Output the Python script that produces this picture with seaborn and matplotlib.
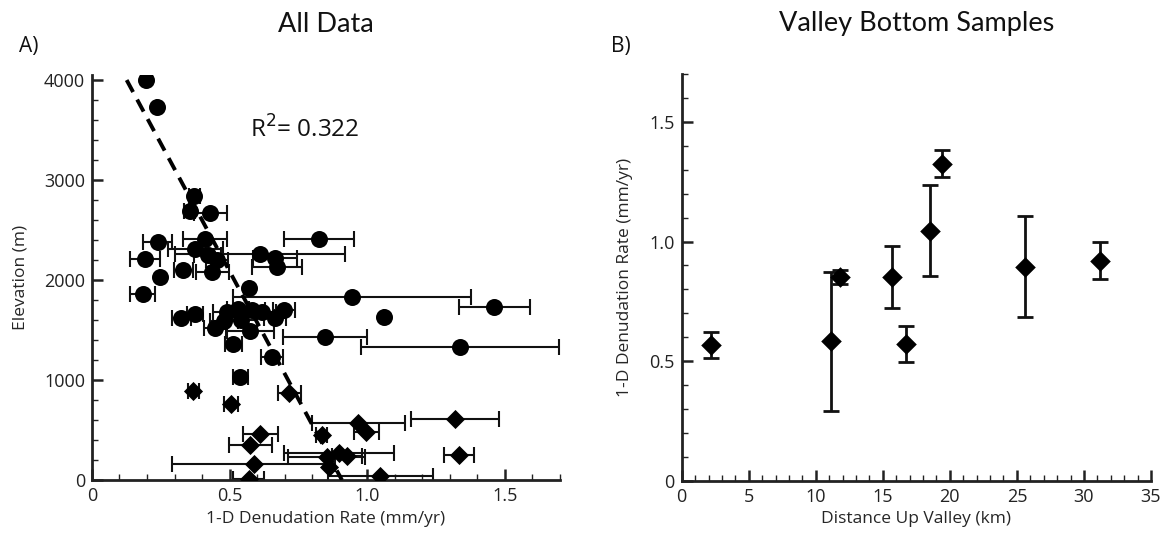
import numpy as np
import pandas as pd
import matplotlib
matplotlib.use("Agg")
import matplotlib.pyplot as plt
import seaborn as sns
from matplotlib.ticker import MultipleLocator

# ---- Panel A: all samples (rate in mm/yr, elevation in m, 1-sigma rate error) ----
upland_rate = [0.195, 0.238, 0.372, 0.356, 0.429, 0.825, 0.239, 0.411, 0.375, 0.420,
               0.453, 0.193, 0.610, 0.665, 0.672, 0.437, 0.332, 0.247, 0.184, 0.572,
               0.944, 1.462, 1.059, 1.338, 0.847, 0.324, 0.375, 0.490, 0.532, 0.580,
               0.617, 0.696, 0.665, 0.447, 0.575, 0.514, 0.653, 0.538, 0.540, 0.480]
upland_elev = [4000, 3730, 2840, 2690, 2675, 2410, 2385, 2415, 2310, 2250,
               2200, 2210, 2260, 2220, 2135, 2085, 2100, 2030, 1865, 1925,
               1835, 1735, 1635, 1335, 1430, 1625, 1665, 1685, 1715, 1700,
               1685, 1705, 1620, 1525, 1490, 1360, 1235, 1030, 1600, 1590]
upland_err = [0.0, 0.0, 0.02, 0.02, 0.06, 0.127, 0.053, 0.08, 0.10, 0.05,
              0.04, 0.055, 0.31, 0.08, 0.09, 0.06, 0.035, 0.0, 0.045, 0.0,
              0.433, 0.13, 0.0, 0.36, 0.153, 0.035, 0.03, 0.05, 0.04, 0.05,
              0.05, 0.04, 0.04, 0.04, 0.085, 0.03, 0.04, 0.027, 0.06, 0.05]

valley_rate_a = [0.368, 0.716, 0.505, 0.611, 0.575, 0.587, 0.569, 1.320, 0.968,
                 0.996, 0.835, 0.896, 0.926, 0.853, 0.860, 1.332, 1.047]
valley_elev_a = [895, 870, 757, 457, 350, 163, 12, 607, 567,
                 483, 450, 267, 240, 227, 135, 250, 40]
valley_err_a = [0.02, 0.042, 0.025, 0.064, 0.079, 0.295, 0.057, 0.16, 0.17,
                0.045, 0.02, 0.20, 0.055, 0.14, 0.0, 0.055, 0.19]

# Linear fit of elevation on rate: elev = fit_intercept + fit_slope * rate
fit_slope = -5115.0
fit_intercept = 4644.0
fit_range = [0.126, 0.908]
r_squared = 0.322

# ---- Panel B: valley bottom samples ----
valley_dist = [2.2, 11.1, 11.8, 15.7, 16.7, 18.5, 19.4, 25.6, 31.2]
valley_rate = [0.568, 0.582, 0.851, 0.851, 0.572, 1.046, 1.325, 0.895, 0.920]
valley_err = [0.055, 0.29, 0.03, 0.13, 0.075, 0.19, 0.057, 0.21, 0.077]

up_df = pd.DataFrame({"rate": upland_rate, "elev": upland_elev, "err": upland_err})
va_df = pd.DataFrame({"rate": valley_rate_a, "elev": valley_elev_a, "err": valley_err_a})
vb_df = pd.DataFrame({"dist": valley_dist, "rate": valley_rate, "err": valley_err})

sns.set_theme(style="ticks")
plt.rcParams["font.family"] = ["Open Sans", "DejaVu Sans"]
plt.rcParams["axes.edgecolor"] = "#222222"
plt.rcParams["xtick.color"] = "#222222"
plt.rcParams["ytick.color"] = "#222222"
plt.rcParams["text.color"] = "#111111"

fig = plt.figure(figsize=(11.73, 5.35), dpi=100)
ax1 = fig.add_axes([0.0784, 0.1028, 0.399, 0.757])
ax2 = fig.add_axes([0.5812, 0.1015, 0.400, 0.760])

err_kw = dict(fmt="none", ecolor="#111111", elinewidth=1.5, capsize=5.5, capthick=1.5, zorder=2)

# Panel A
ax1.errorbar(up_df["rate"], up_df["elev"], xerr=up_df["err"], **err_kw)
ax1.errorbar(va_df["rate"], va_df["elev"], xerr=va_df["err"], **err_kw)
sns.scatterplot(data=up_df, x="rate", y="elev", ax=ax1, marker="o", s=150,
                color="black", edgecolor="black", linewidth=0, zorder=3)
sns.scatterplot(data=va_df, x="rate", y="elev", ax=ax1, marker="D", s=95,
                color="black", edgecolor="black", linewidth=0, zorder=3)
fx = np.array(fit_range)
ax1.plot(fx, fit_intercept + fit_slope * fx, color="black", lw=2.8,
         linestyle=(0, (3.5, 2.2)), zorder=4)
ax1.text(0.575, 3500, f"R$^2$= {r_squared:.3f}", fontsize=17.5, ha="left", va="center")

ax1.set_xlim(0, 1.7)
ax1.set_ylim(0, 4050)
ax1.set_xticks([0, 0.5, 1.0, 1.5])
ax1.set_xticklabels(["0", "0.5", "1.0", "1.5"])
ax1.set_yticks([0, 1000, 2000, 3000, 4000])
ax1.set_yticklabels(["0", "1000", "2000", "3000", "4000"])
ax1.xaxis.set_minor_locator(MultipleLocator(0.1))
ax1.yaxis.set_minor_locator(MultipleLocator(200))
ax1.set_xlabel("1-D Denudation Rate (mm/yr)", fontsize=12.5, labelpad=4)
ax1.set_ylabel("Elevation (m)", fontsize=12.5, labelpad=11)
ax1.set_title("All Data", fontsize=19.5, pad=31, family=["Lato", "DejaVu Sans"])

# Panel B
ax2.errorbar(vb_df["dist"], vb_df["rate"], yerr=vb_df["err"], fmt="none",
             ecolor="#111111", elinewidth=2.0, capsize=5.5, capthick=2.0, zorder=2)
sns.scatterplot(data=vb_df, x="dist", y="rate", ax=ax2, marker="D", s=110,
                color="black", edgecolor="black", linewidth=0, zorder=3)
ax2.set_xlim(0, 35)
ax2.set_ylim(0, 1.7)
ax2.set_xticks(range(0, 36, 5))
ax2.set_yticks([0, 0.5, 1.0, 1.5])
ax2.set_yticklabels(["0", "0.5", "1.0", "1.5"])
ax2.xaxis.set_minor_locator(MultipleLocator(1))
ax2.yaxis.set_minor_locator(MultipleLocator(0.1))
ax2.set_xlabel("Distance Up Valley (km)", fontsize=12.5, labelpad=4)
ax2.set_ylabel("1-D Denudation Rate (mm/yr)", fontsize=12.5, labelpad=12)
ax2.set_title("Valley Bottom Samples", fontsize=19.5, pad=31, family=["Lato", "DejaVu Sans"])

for ax in (ax1, ax2):
    sns.despine(ax=ax)
    ax.spines["left"].set_linewidth(2.0)
    ax.spines["bottom"].set_linewidth(2.0)
    ax.tick_params(which="major", direction="in", length=8, width=1.8, labelsize=13, pad=5)
    ax.tick_params(which="minor", direction="in", length=4, width=1.0)

fig.text(0.016, 0.914, "A)", fontsize=15, va="center")
fig.text(0.521, 0.914, "B)", fontsize=15, va="center")

fig.savefig("out.png", dpi=100)
